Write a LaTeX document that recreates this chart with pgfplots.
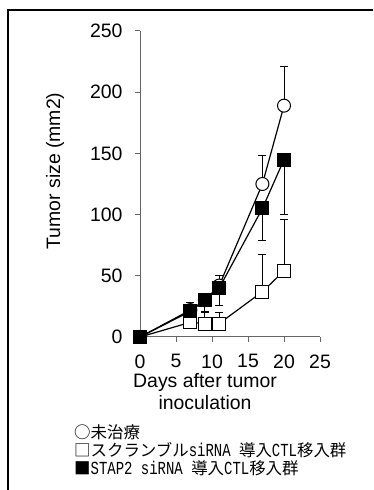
\documentclass[border=0pt]{standalone}
\usepackage{fontspec}
\setmainfont{Liberation Sans}
\newfontfamily\jp{Noto Sans CJK JP}
\newfontfamily\lmono{Liberation Mono}
\usepackage{graphicx}
\usepackage{pgfplots}
\pgfplotsset{compat=1.18}
\newcommand{\lf}{\fontsize{19.5}{21}\selectfont}
\newcommand{\jf}{\fontsize{16.5}{18}\selectfont\jp}
\newcommand{\m}[1]{\scalebox{0.85}[1.12]{\fontsize{16.5}{18}\selectfont\lmono #1}}
\begin{document}
\begin{tikzpicture}[x=1bp,y=1bp]
\path[use as bounding box] (0,0) rectangle (373,490);
\draw[line width=1.5bp] (8,0) -- (8,480) -- (373,480);
\begin{axis}[
  at={(140bp,153bp)}, anchor=south west,
  scale only axis, width=180bp, height=306bp,
  xmin=0, xmax=25, ymin=0, ymax=250,
  axis x line=bottom, axis y line=left,
  axis line style={gray!80!black, -, line width=1bp},
  tick style={gray!80!black, line width=1bp},
  tick align=outside, major tick length=5bp,
  xtick={0,5,...,25}, ytick={0,50,...,250},
  tick label style={font=\lf},
  xticklabel style={yshift=-9bp},
  yticklabel style={xshift=-9bp},
  /pgf/number format/assume math mode=true,
  clip=false,
]
% open square: scrambled siRNA
\addplot[black, line width=1.2bp, mark=square*, mark options={solid, fill=white, mark size=6.5bp, line width=1bp},
  error bars/.cd, y dir=plus, y explicit,
  error bar style={line width=1bp, black},
  error mark options={rotate=90, mark size=4bp, line width=1bp, black}]
  table[x=x, y=y, y error=e] {
x y e
0 0 0
7 12 3
9 11 9
11 11 9
17 37 30
20 54 42
};
% open circle: untreated
\addplot[black, line width=1.2bp, mark=*, mark options={solid, fill=white, mark size=6.5bp, line width=1bp},
  error bars/.cd, y dir=plus, y explicit,
  error bar style={line width=1bp, black},
  error mark options={rotate=90, mark size=4bp, line width=1bp, black}]
  table[x=x, y=y, y error=e] {
x y e
0 0 0
7 22 6
9 30 5
11 42 8
17 125 23
20 189 32
};
% filled square: STAP2 siRNA
\addplot[black, line width=1.2bp, mark=square*, mark options={solid, fill=black, mark size=6.5bp, line width=1bp},
  error bars/.cd, y dir=minus, y explicit,
  error bar style={line width=1bp, black},
  error mark options={rotate=90, mark size=4bp, line width=1bp, black}]
  table[x=x, y=y, y error=e] {
x y e
0 0 0
7 21 3
9 30 9
11 40 14
17 105 26
20 145 45
};
\end{axis}
\node[font=\lf] at (205,108) {Days after tumor};
\node[font=\lf] at (205,87) {inoculation};
\node[font=\lf, rotate=90] at (55,319) {Tumor size (mm2)};
\node[anchor=west, inner sep=0pt] at (74,58) {\jf ○未治療};
\node[anchor=west, inner sep=0pt] at (74,40) {\jf □スクランブル\m{siRNA }導入\m{CTL}移入群};
\node[anchor=west, inner sep=0pt] at (74,22) {\jf ■\m{STAP2 siRNA }導入\m{CTL}移入群};
\end{tikzpicture}
\end{document}
